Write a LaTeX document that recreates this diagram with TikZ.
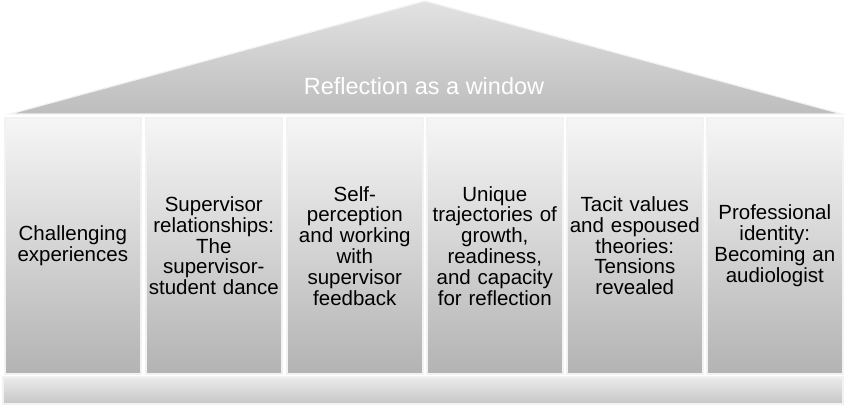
\documentclass[tikz,border=0pt]{standalone}
\usepackage{fontspec}
\setmainfont{Liberation Sans}
\definecolor{roofTop}{HTML}{E2E2E2}
\definecolor{roofBot}{HTML}{BDBDBD}
\definecolor{colTop}{HTML}{F6F6F6}
\definecolor{colBot}{HTML}{B3B3B3}
\definecolor{baseTop}{HTML}{EBEBEB}
\definecolor{baseBot}{HTML}{C6C6C6}
\definecolor{edge}{HTML}{F2F2F2}
\tikzset{
  pillar/.style={draw=edge, line width=1.6pt, top color=colTop, bottom color=colBot,
    minimum width=136pt, minimum height=256pt, inner sep=0pt, anchor=north west,
    text width=134pt, align=center, font=\fontsize{20.5}{20.8}\selectfont},
}
\begin{document}
\begin{tikzpicture}[x=1pt,y=-1pt]
\useasboundingbox (0,0) rectangle (852,406);
% roof
\path[draw=edge, line width=1.2pt, top color=roofTop, bottom color=roofBot]
  (425,1) -- (842,114) -- (10,114) -- cycle;
\node[text=white, font=\fontsize{23.5}{26}\selectfont] (roof) at (424,86) {Reflection as a window};
% pillars
\node[pillar] (c1) at (4,117) {Challenging\\experiences};
\node[pillar] (c2) at (145,117) {Supervisor\\relationships:\\The\\supervisor-\\student dance};
\node[pillar] (c3) at (286,117) {Self-\\perception\\and working\\with\\supervisor\\feedback};
\node[pillar] (c4) at (426,117) {Unique\\trajectories of\\growth,\\readiness,\\and capacity\\for reflection};
\node[pillar] (c5) at (566,117) {Tacit values\\and espoused\\theories:\\Tensions\\revealed};
\node[pillar] (c6) at (706,117) {Professional\\identity:\\Becoming an\\audiologist};
% base
\path[draw=edge, line width=1.2pt, top color=baseTop, bottom color=baseBot]
  (3,377) rectangle (843,404);
\end{tikzpicture}
\end{document}
